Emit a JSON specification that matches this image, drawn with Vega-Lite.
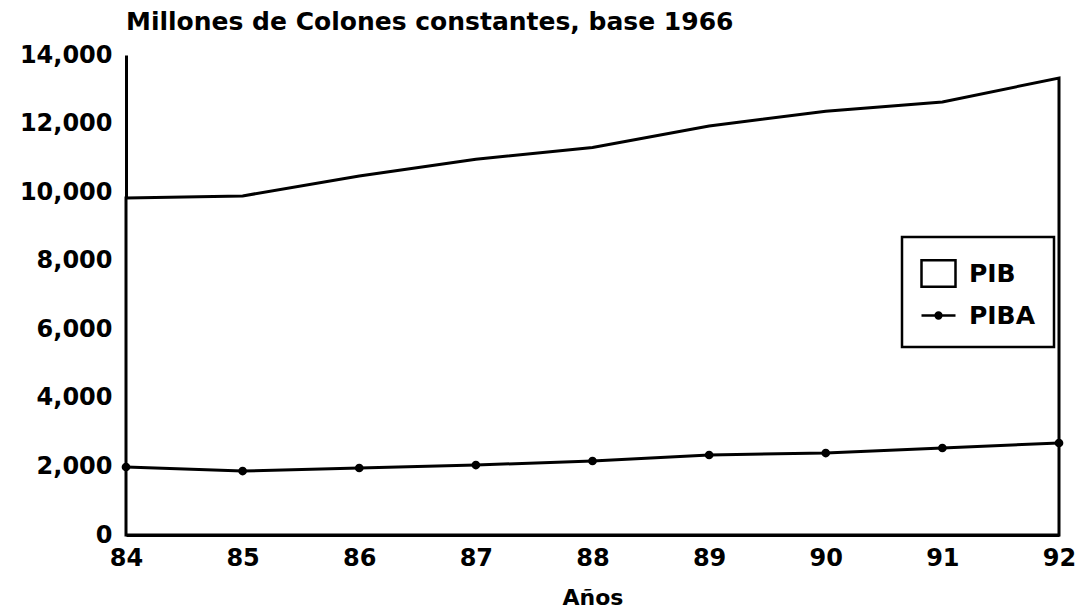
{
  "$schema": "https://vega.github.io/schema/vega-lite/v6.json",
  "width": 933,
  "height": 480,
  "autosize": {"type": "none"},
  "padding": {"left": 126, "top": 55, "right": 28, "bottom": 81},
  "background": "white",
  "title": {
    "text": "Millones de Colones constantes, base 1966",
    "anchor": "start",
    "frame": "group",
    "font": "DejaVu Sans",
    "fontSize": 25,
    "fontWeight": "bold",
    "color": "black",
    "offset": 8
  },
  "config": {
    "view": {"stroke": null},
    "axis": {
      "domainColor": "black",
      "domainWidth": 3,
      "ticks": false,
      "grid": false,
      "labelFont": "DejaVu Sans",
      "labelFontSize": 24,
      "labelFontWeight": "bold",
      "labelColor": "black",
      "titleFont": "DejaVu Sans",
      "titleFontSize": 22,
      "titleFontWeight": "bold",
      "titleColor": "black"
    }
  },
  "data": {
    "values": [
      {"year": 84, "series": "PIB", "value": 9830},
      {"year": 85, "series": "PIB", "value": 9890},
      {"year": 86, "series": "PIB", "value": 10470},
      {"year": 87, "series": "PIB", "value": 10960},
      {"year": 88, "series": "PIB", "value": 11300},
      {"year": 89, "series": "PIB", "value": 11930},
      {"year": 90, "series": "PIB", "value": 12360},
      {"year": 91, "series": "PIB", "value": 12630},
      {"year": 92, "series": "PIB", "value": 13330},
      {"year": 84, "series": "PIBA", "value": 1983},
      {"year": 85, "series": "PIBA", "value": 1866},
      {"year": 86, "series": "PIBA", "value": 1954},
      {"year": 87, "series": "PIBA", "value": 2041},
      {"year": 88, "series": "PIBA", "value": 2158},
      {"year": 89, "series": "PIBA", "value": 2333},
      {"year": 90, "series": "PIBA", "value": 2391},
      {"year": 91, "series": "PIBA", "value": 2537},
      {"year": 92, "series": "PIBA", "value": 2683}
    ]
  },
  "encoding": {
    "x": {
      "field": "year",
      "type": "quantitative",
      "scale": {"domain": [84, 92], "nice": false, "zero": false},
      "axis": {"values": [84, 85, 86, 87, 88, 89, 90, 91, 92], "title": "Años", "labelPadding": 11, "titlePadding": 17, "format": "d", "labelFlush": false}
    },
    "y": {
      "field": "value",
      "type": "quantitative",
      "scale": {"domain": [0, 14000], "nice": false},
      "axis": {"values": [0, 2000, 4000, 6000, 8000, 10000, 12000, 14000], "format": ",d", "title": null, "labelPadding": 14}
    },
    "stroke": {
      "field": "series",
      "type": "nominal",
      "scale": {"domain": ["PIB", "PIBA"], "range": ["black", "black"]},
      "legend": {
        "title": null,
        "orient": "none",
        "legendX": 776,
        "legendY": 182,
        "strokeColor": "black",
        "padding": 18,
        "fillColor": "white",
        "labelFont": "DejaVu Sans",
        "labelFontSize": 25,
        "labelFontWeight": "bold",
        "labelColor": "black",
        "labelOffset": 12,
        "rowPadding": 5,
        "symbolSize": 1156,
        "encode": {
          "legend": {"update": {"strokeWidth": {"value": 2.5}}},
          "symbols": {
            "update": {
              "shape": {"signal": "datum.value === 'PIB' ? 'M-1,-0.78H1V0.78H-1Z' : 'M-1,0H1M-0.17,0A0.17,0.17,0,1,1,0.17,0A0.17,0.17,0,1,1,-0.17,0Z'"},
              "fill": {"signal": "datum.value === 'PIB' ? 'white' : 'black'"},
              "stroke": {"value": "black"},
              "strokeWidth": {"value": 2.5},
              "size": {"value": 1156},
              "opacity": {"value": 1}
            }
          }
        }
      }
    }
  },
  "layer": [
    {
      "transform": [{"filter": "datum.series === 'PIB'"}],
      "mark": {"type": "area", "fill": "white", "strokeWidth": 3, "strokeJoin": "miter"}
    },
    {
      "transform": [{"filter": "datum.series === 'PIBA'"}],
      "mark": {"type": "line", "strokeWidth": 3, "point": {"filled": true, "fill": "black", "size": 45}}
    }
  ]
}
